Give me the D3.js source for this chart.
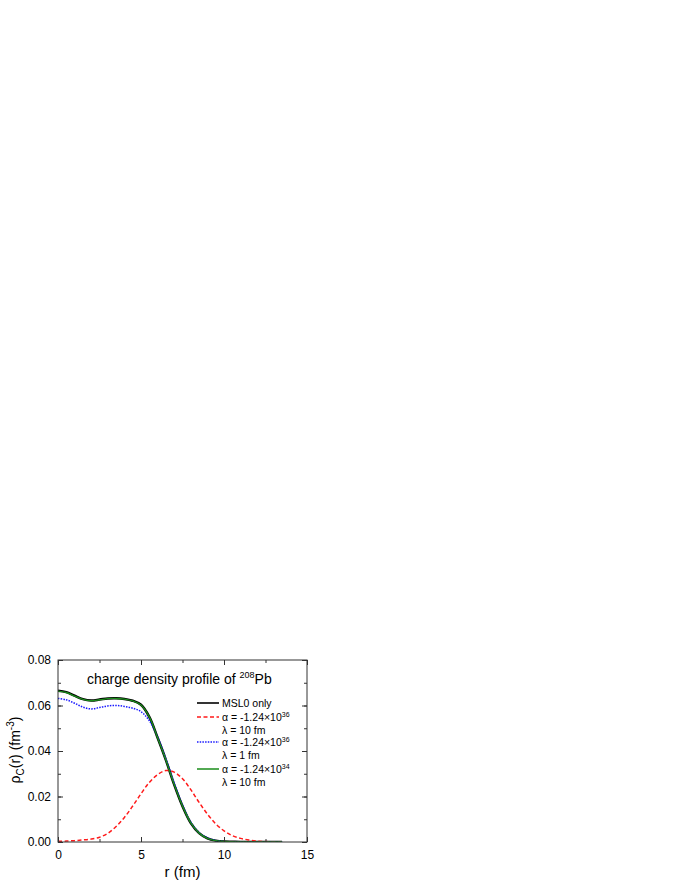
<!DOCTYPE html>
<html>
<head>
<meta charset="utf-8">
<script src="https://cdn.jsdelivr.net/npm/d3@7/dist/d3.min.js"></script>
<style>
body { margin: 0; background: #fff; }
svg { display: block; }
text { font-family: "Liberation Sans", Arial, sans-serif; fill: #000; }
</style>
</head>
<body>
<div id="chart"></div>
<script>
// r grid in fm
var radius = [0, 0.5, 1, 1.5, 2, 2.5, 3, 3.5, 4, 4.5, 5, 5.5, 6, 6.5, 7,
              7.5, 8, 8.5, 9, 9.5, 10, 10.5, 11, 11.5, 12, 12.5, 13, 13.5];

// charge density (fm^-3)
var msl0Only = [0.0665, 0.0659, 0.0643, 0.0628, 0.0622, 0.0626, 0.0631, 0.0632, 0.0629, 0.0621,
                0.0603, 0.0550, 0.0458, 0.0360, 0.0252, 0.0157, 0.0083, 0.0039, 0.0016, 0.0006,
                0.0002, 0.0001, 0, 0, 0, 0, 0, 0];
var alpha36Lam10 = [0.0003, 0.0004, 0.0006, 0.0009, 0.0013, 0.0021, 0.0038, 0.0068, 0.0108, 0.0158,
                    0.0212, 0.0262, 0.0296, 0.0314, 0.0307, 0.0278, 0.0230, 0.0174, 0.0123, 0.0080,
                    0.0049, 0.0028, 0.0016, 0.0009, 0.0004, 0.0002, 0.0001, 0];
var alpha36Lam1 = [0.0631, 0.0625, 0.0610, 0.0593, 0.0585, 0.0591, 0.0598, 0.0600, 0.0596, 0.0588,
                   0.0573, 0.0533, 0.0462, 0.0366, 0.0260, 0.0162, 0.0087, 0.0041, 0.0018, 0.0007,
                   0.0002, 0.0001, 0, 0, 0, 0, 0, 0];
var alpha34Lam10 = [0.0663, 0.0657, 0.0641, 0.0627, 0.0621, 0.0625, 0.0630, 0.0631, 0.0628, 0.0620,
                    0.0602, 0.0550, 0.0458, 0.0360, 0.0253, 0.0158, 0.0084, 0.0039, 0.0016, 0.0006,
                    0.0002, 0.0001, 0, 0, 0, 0, 0, 0];

var xTicks = [0, 5, 10, 15];
var yTicks = [0, 0.02, 0.04, 0.06, 0.08];

var series = [
    {values: msl0Only, color: "#000000", width: 2.5, dash: null, label: "MSL0 only"},
    {values: alpha36Lam10, color: "#ff1a1a", width: 1.5, dash: "4,2.5", label: ["36", "10"]},
    {values: alpha36Lam1, color: "#1a1aff", width: 1.5, dash: "1.5,1.2", label: ["36", "1"]},
    {values: alpha34Lam10, color: "#1a8c1a", width: 1.4, dash: null, label: ["34", "10"]}
];

var width = 680, height = 880;
var plot = {left: 58, right: 307, top: 660, bottom: 842};

var svg = d3.select("#chart")
    .append("svg")
    .attr("width", width)
    .attr("height", height);

var x = d3.scaleLinear().domain([0, 15]).range([plot.left, plot.right]);
var y = d3.scaleLinear().domain([0, 0.08]).range([plot.bottom, plot.top]);

var line = d3.line()
    .x(function(d){ return x(d[0]); })
    .y(function(d){ return y(Math.max(0, d[1])); })
    .curve(d3.curveCatmullRom.alpha(0.5));

// curves
svg.append("clipPath").attr("id", "clip")
    .append("rect")
    .attr("x", plot.left).attr("y", plot.top - 2)
    .attr("width", plot.right - plot.left).attr("height", plot.bottom - plot.top + 2);

var curves = svg.append("g").attr("clip-path", "url(#clip)");
series.forEach(function(s){
    curves.append("path")
        .datum(radius.map(function(r, i){ return [r, s.values[i]]; }))
        .attr("d", line)
        .attr("fill", "none")
        .attr("stroke", s.color)
        .attr("stroke-width", s.width)
        .attr("stroke-dasharray", s.dash);
});

// axes, ticks inside on all four sides
function styleAxis(g){
    g.select(".domain").remove();
    g.selectAll("line").attr("stroke", "#333");
    g.selectAll("text").attr("font-size", 12).attr("font-family", "Liberation Sans, Arial, sans-serif");
}
var xMinor = d3.range(0, 15.01, 2.5);
var yMinor = d3.range(0, 0.0801, 0.01);

svg.append("g").attr("transform", "translate(0," + plot.bottom + ")")
    .call(d3.axisBottom(x).tickValues(xMinor).tickSize(-3).tickFormat(""))
    .call(styleAxis);
svg.append("g").attr("transform", "translate(0," + plot.bottom + ")")
    .call(d3.axisBottom(x).tickValues(xTicks).tickSize(-5).tickPadding(8).tickFormat(d3.format("d")))
    .call(styleAxis);
svg.append("g").attr("transform", "translate(0," + plot.top + ")")
    .call(d3.axisTop(x).tickValues(xMinor).tickSize(-3).tickFormat(""))
    .call(styleAxis);
svg.append("g").attr("transform", "translate(0," + plot.top + ")")
    .call(d3.axisTop(x).tickValues(xTicks).tickSize(-5).tickFormat(""))
    .call(styleAxis);

svg.append("g").attr("transform", "translate(" + plot.left + ",0)")
    .call(d3.axisLeft(y).tickValues(yMinor).tickSize(-3).tickFormat(""))
    .call(styleAxis);
svg.append("g").attr("transform", "translate(" + plot.left + ",0)")
    .call(d3.axisLeft(y).tickValues(yTicks).tickSize(-5).tickPadding(7).tickFormat(d3.format(".2f")))
    .call(styleAxis);
svg.append("g").attr("transform", "translate(" + plot.right + ",0)")
    .call(d3.axisRight(y).tickValues(yMinor).tickSize(-3).tickFormat(""))
    .call(styleAxis);
svg.append("g").attr("transform", "translate(" + plot.right + ",0)")
    .call(d3.axisRight(y).tickValues(yTicks).tickSize(-5).tickFormat(""))
    .call(styleAxis);

svg.append("rect")
    .attr("x", plot.left).attr("y", plot.top)
    .attr("width", plot.right - plot.left).attr("height", plot.bottom - plot.top)
    .attr("fill", "none")
    .attr("stroke", "#333")
    .attr("stroke-width", 1);

// title inside plot
var title = svg.append("text")
    .attr("x", 87).attr("y", 684)
    .attr("font-size", 14);
title.append("tspan").text("charge density profile of ");
title.append("tspan").attr("font-size", 9).attr("dy", -6).text("208");
title.append("tspan").attr("dy", 6).text("Pb");

// axis titles
svg.append("text")
    .attr("x", (plot.left + plot.right) / 2)
    .attr("y", 877)
    .attr("text-anchor", "middle")
    .attr("font-size", 15)
    .text("r (fm)");

var ytitle = svg.append("text")
    .attr("transform", "translate(20,750) rotate(-90)")
    .attr("text-anchor", "middle")
    .attr("font-size", 14);
ytitle.append("tspan").text("\u03c1");
ytitle.append("tspan").attr("font-size", 10).attr("dy", 4).text("C");
ytitle.append("tspan").attr("dy", -4).text("(r) (fm");
ytitle.append("tspan").attr("font-size", 10).attr("dy", -6).text("-3");
ytitle.append("tspan").attr("dy", 6).text(")");

// legend
var legendRows = [703, 717, 742, 769];
var legend = svg.append("g");
series.forEach(function(s, i){
    var ly = legendRows[i];
    legend.append("line")
        .attr("x1", 197).attr("x2", 219)
        .attr("y1", ly).attr("y2", ly)
        .attr("stroke", s.color)
        .attr("stroke-width", i === 0 ? 1.6 : 1.5)
        .attr("stroke-dasharray", s.dash);
    var t = legend.append("text")
        .attr("x", 222).attr("y", ly + 3.5)
        .attr("font-size", 10.5);
    if (typeof s.label === "string") {
        t.text(s.label);
    } else {
        t.append("tspan").text("\u03b1 = -1.24\u00d710");
        t.append("tspan").attr("font-size", 7).attr("dy", -4).text(s.label[0]);
        legend.append("text")
            .attr("x", 222).attr("y", ly + 16.5)
            .attr("font-size", 10.5)
            .text("\u03bb = " + s.label[1] + " fm");
    }
});
</script>
</body>
</html>
